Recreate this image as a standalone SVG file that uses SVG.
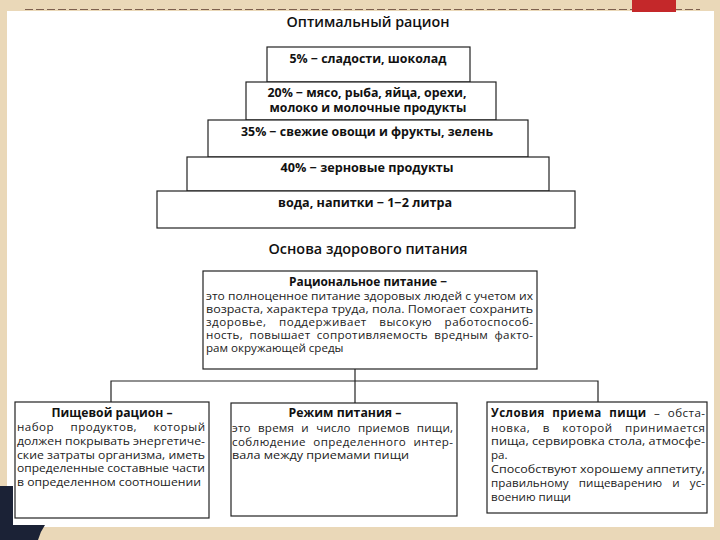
<svg xmlns="http://www.w3.org/2000/svg" width="720" height="540" viewBox="0 0 720 540">
<style>
.box{fill:#fff;stroke:#222;stroke-width:1.2}
.pt{font-family:"Open Sans","DejaVu Sans",sans-serif;font-weight:700;font-size:12px;fill:#111;text-anchor:middle}
.tx{font-family:"Open Sans","DejaVu Sans",sans-serif;font-size:11.6px;fill:#222}
.bd{font-family:"Open Sans","DejaVu Sans",sans-serif;font-size:11.6px;font-weight:700;fill:#111}
.hd{font-family:"Open Sans","DejaVu Sans",sans-serif;font-size:14px;font-weight:600;fill:#111;text-anchor:middle}
.cn{fill:none;stroke:#222;stroke-width:1.2}
</style>
<rect x="0" y="0" width="720" height="540" fill="#ead8b8"/>
<rect x="7" y="11" width="707" height="516" fill="#fff"/>
<line x1="25" y1="9.5" x2="700" y2="9.5" stroke="#6b4a3c" stroke-width="1.2" stroke-dasharray="8 3" opacity="0.85"/>
<rect x="632" y="0" width="44" height="12" fill="#c4282a"/>
<path d="M0 486 L13 486 L13 525 L45 525 Q40 532 38 540 L0 540 Z" fill="#1b2236"/>

<text class="hd" x="368" y="27" textLength="163" lengthAdjust="spacingAndGlyphs">Оптимальный рацион</text>

<g id="pyr1"><rect class="box" x="267" y="47" width="203" height="35"/><text class="pt" x="368" y="63" textLength="157" lengthAdjust="spacingAndGlyphs">5% − сладости, шоколад</text></g>
<g id="pyr2"><rect class="box" x="246" y="82" width="250" height="38"/><text class="pt" x="367" y="97" textLength="199" lengthAdjust="spacingAndGlyphs">20% − мясо, рыба, яйца, орехи,</text><text class="pt" x="368" y="112" textLength="197" lengthAdjust="spacingAndGlyphs">молоко и молочные продукты</text></g>
<g id="pyr3"><rect class="box" x="208" y="120" width="320" height="37"/><text class="pt" x="367" y="136" textLength="252" lengthAdjust="spacingAndGlyphs">35% − свежие овощи и фрукты, зелень</text></g>
<g id="pyr4"><rect class="box" x="187" y="157" width="362" height="34"/><text class="pt" x="367" y="172" textLength="173" lengthAdjust="spacingAndGlyphs">40% − зерновые продукты</text></g>
<g id="pyr5"><rect class="box" x="157" y="191" width="418" height="37"/><text class="pt" x="365" y="207" textLength="174" lengthAdjust="spacingAndGlyphs">вода, напитки − 1−2 литра</text></g>

<text class="hd" x="368" y="254" textLength="199" lengthAdjust="spacingAndGlyphs">Основа здорового питания</text>

<g id="connectors">
<line class="cn" x1="355" y1="369" x2="355" y2="403"/>
<polyline class="cn" points="111,402 111,381 598,381 598,402"/>
</g>

<g id="main">
<rect class="box" x="203" y="271" width="334" height="98"/>
<text class="bd" x="368" y="286" text-anchor="middle" textLength="158" lengthAdjust="spacingAndGlyphs">Рациональное питание −</text>
<text class="tx" x="206" y="300" textLength="327" lengthAdjust="spacingAndGlyphs">это полноценное питание здоровых людей с учетом их</text>
<text class="tx" x="206" y="313" textLength="327" lengthAdjust="spacingAndGlyphs">возраста, характера труда, пола. Помогает сохранить</text>
<text class="tx" x="206" y="326" word-spacing="9" textLength="327" lengthAdjust="spacing">здоровье, поддерживает высокую работоспособ-</text>
<text class="tx" x="206" y="339" word-spacing="3" textLength="327" lengthAdjust="spacing">ность, повышает сопротивляемость вредным факто-</text>
<text class="tx" x="206" y="352">рам окружающей среды</text>
</g>

<g id="ration">
<rect class="box" x="15" y="402" width="194" height="116"/>
<text class="bd" x="112" y="417" text-anchor="middle" textLength="121" lengthAdjust="spacingAndGlyphs">Пищевой рацион –</text>
<text class="tx" x="17" y="431" word-spacing="13" textLength="188" lengthAdjust="spacing">набор продуктов, который</text>
<text class="tx" x="17" y="445" textLength="188" lengthAdjust="spacingAndGlyphs">должен покрывать энергетиче-</text>
<text class="tx" x="17" y="459" textLength="188" lengthAdjust="spacingAndGlyphs">ские затраты организма, иметь</text>
<text class="tx" x="17" y="472" textLength="188" lengthAdjust="spacingAndGlyphs">определенные составные части</text>
<text class="tx" x="17" y="486" textLength="184" lengthAdjust="spacingAndGlyphs">в определенном соотношении</text>
</g>

<g id="regime">
<rect class="box" x="231" y="403" width="226" height="113"/>
<text class="bd" x="345" y="417" text-anchor="middle" textLength="113" lengthAdjust="spacingAndGlyphs">Режим питания –</text>
<text class="tx" x="232" y="432" word-spacing="4" textLength="221" lengthAdjust="spacing">это время и число приемов пищи,</text>
<text class="tx" x="232" y="446" word-spacing="4" textLength="221" lengthAdjust="spacing">соблюдение определенного интер-</text>
<text class="tx" x="232" y="459" textLength="177" lengthAdjust="spacingAndGlyphs">вала между приемами пищи</text>
</g>

<g id="conditions">
<rect class="box" x="487" y="402" width="220" height="111"/>
<text class="tx" x="491" y="417" word-spacing="4" textLength="214" lengthAdjust="spacing"><tspan class="bd">Условия приема пищи</tspan> – обста-</text>
<text class="tx" x="491" y="432" word-spacing="9" textLength="214" lengthAdjust="spacing">новка, в которой принимается</text>
<text class="tx" x="491" y="445" textLength="214" lengthAdjust="spacingAndGlyphs">пища, сервировка стола, атмосфе-</text>
<text class="tx" x="491" y="459">ра.</text>
<text class="tx" x="491" y="473" textLength="214" lengthAdjust="spacingAndGlyphs">Способствуют хорошему аппетиту,</text>
<text class="tx" x="491" y="487" word-spacing="7" textLength="214" lengthAdjust="spacing">правильному пищеварению и ус-</text>
<text class="tx" x="491" y="501" textLength="80" lengthAdjust="spacingAndGlyphs">воению пищи</text>
</g>
</svg>
